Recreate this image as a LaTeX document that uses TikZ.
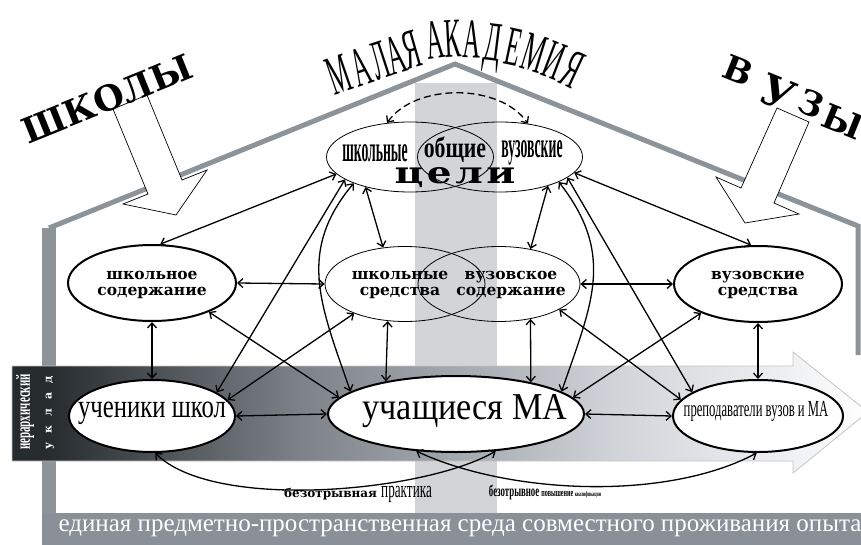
\documentclass[tikz,border=0pt]{standalone}
\usepackage{fontspec}
\setmainfont{Liberation Serif}
\newfontfamily\widefont{DejaVu Serif}
\newfontfamily\goalfont{DejaVu Serif}[FakeStretch=1.3,LetterSpace=12]
\newfontfamily\titlefont{Liberation Serif}[FakeStretch=0.44]
\newfontfamily\condfont{Liberation Serif}[FakeStretch=0.55]
\newfontfamily\thincondfont{Liberation Serif}[FakeStretch=0.38]
\newfontfamily\semicondfont{Liberation Serif}[FakeStretch=0.75]
\newfontfamily\mildcondfont{Liberation Serif}[FakeStretch=0.9]
\usetikzlibrary{arrows.meta,shapes.geometric,positioning}
\definecolor{roofgray}{HTML}{8C9399}
\definecolor{bandgray}{HTML}{D3D4D6}
\definecolor{floorgray}{HTML}{899097}
\definecolor{shaftdark}{HTML}{262B2E}
\definecolor{shaftmid}{HTML}{7D8389}
\definecolor{shaftgray}{HTML}{A3A9AF}
\definecolor{shaftlight}{HTML}{D0D3D8}
\definecolor{shaftpale}{HTML}{EEEFF1}
\pgfdeclarehorizontalshading{shaftshade}{100bp}{color(0bp)=(shaftdark); color(27bp)=(shaftdark); color(42bp)=(shaftmid); color(51bp)=(shaftgray); color(60bp)=(shaftlight); color(70bp)=(shaftpale); color(75bp)=(white); color(100bp)=(white)}

\begin{document}
\begin{tikzpicture}[x=1pt,y=-1pt,
    thickell/.style={ellipse,draw,line width=2pt,fill=white,inner sep=0pt},
    thinell/.style={ellipse,draw,line width=0.8pt,inner sep=0pt},
    link/.style={<->,line width=1.3pt},
    blockarrow/.style={draw,fill=white,line width=0.7pt,line join=miter},
    midtext/.style={font=\widefont\bfseries\fontsize{15.5}{16}\selectfont,align=center,inner sep=0pt},
    goaltext/.style={font=\thincondfont\bfseries\fontsize{36}{36}\selectfont,inner sep=0pt},
    titleletter/.style={font=\titlefont\fontsize{56}{56}\selectfont,anchor=base,inner sep=0pt},
    unitletter/.style={inner sep=0pt},
    >={Straight Barb[length=5pt,width=9pt]}
  ]
  \useasboundingbox (0,0) rectangle (861,545);
  % house, middle band, floor
  \fill[bandgray] (415,83) rectangle (497,515);
  \fill[roofgray] (42,228) rectangle (56,515);
  \draw[roofgray,line width=5pt] (49,228) -- (455,64) -- (858,226) -- (858,355);
  \fill[floorgray] (42,513) rectangle (861,545);
  \node[text=white,font=\fontsize{25}{25}\selectfont] (floortext) at (460,528) {единая предметно-пространственная среда совместного проживания опыта};

  % shaded arrow
  \shade[shading=shaftshade,draw=gray!45,line width=0.8pt] (12,366) -- (793,366) -- (793,352) -- (868,412) -- (793,473) -- (793,461) -- (12,461) -- cycle;
  \node[rotate=90,text=white,font=\condfont\bfseries\fontsize{20}{20}\selectfont] (hierword) at (25,412) {иерархический};
  \node[rotate=90,text=white,font=\widefont\bfseries\fontsize{11}{11}\selectfont] (ukladword) at (50,413) {у\hspace{9pt}к\hspace{9pt}л\hspace{9pt}а\hspace{9pt}д};

  % block arrows and titles
  \draw[blockarrow] (113,109) -- (147,95) -- (182,180) -- (207,170) -- (176,215) -- (123,204) -- (148,194) -- cycle;
  \draw[blockarrow] (809,122) -- (777,108) -- (741,188) -- (716,177) -- (745,223) -- (799,214) -- (774,203) -- cycle;
  \node[font=\widefont\bfseries\fontsize{35}{35}\selectfont,rotate=22] (schooltitle) at (107,99) {ШКОЛЫ};
  \foreach \ch/\x/\y/\r [count=\i] in {М/345/92/19, А/367/85/19, Л/385/78/18, А/401/73/17, Я/416/67/16,
      А/437/58/8, К/454/57/3, А/471/58/-2, Д/491/61/-7, Е/510/65/-12, М/529/71/-17, И/548/78/-21, Я/565/86/-25}
    \node[titleletter,rotate=\r] (ma\i) at (\x,\y) {\ch};
  \foreach \ch/\x/\y/\s [count=\i] in {В/738/70/34, У/778/93/42, З/811/104/34, Ы/843/122/34}
    \node[unitletter,rotate=-22,font=\widefont\bfseries\fontsize{\s}{\s}\selectfont] (vuz\i) at (\x,\y) {\ch};

  % goals
  \node[thinell,minimum width=167pt,minimum height=70pt] (goalL) at (410,157) {};
  \node[thinell,minimum width=165pt,minimum height=70pt] (goalR) at (500,157) {};
  \node[goaltext] (goalLtext) at (375,153) {школьные};
  \node[goaltext] (goalRtext) at (532,153) {вузовские};
  \node[font=\semicondfont\bfseries\fontsize{29}{29}\selectfont,inner sep=0pt] (goalCtext) at (455,150) {общие};
  \node[font=\goalfont\bfseries\fontsize{30}{30}\selectfont,inner sep=0pt,below=4pt of goalCtext] (goalword) {цели};

  % middle row
  \node[thickell,minimum width=168pt,minimum height=76pt] (contS) at (152,283) {};
  \node[midtext] (contStext) at (152,285) {школьное\\содержание};
  \node[thinell,minimum width=160pt,minimum height=75pt] (meansL) at (405,284) {};
  \node[thinell,minimum width=162pt,minimum height=75pt] (meansR) at (499,284) {};
  \node[midtext] (meansLtext) at (400,285) {школьные\\средства};
  \node[midtext] (meansRtext) at (511,285) {вузовское\\содержание};
  \node[thickell,minimum width=168pt,minimum height=76pt] (meansU) at (758,284) {};
  \node[midtext] (meansUtext) at (758,285) {вузовские\\средства};

  % bottom row
  \node[thickell,minimum width=166pt,minimum height=72pt] (pupS) at (152,416) {};
  \node[font=\semicondfont\fontsize{33}{33}\selectfont,inner sep=0pt] (pupStext) at (152,413) {ученики школ};
  \node[thickell,minimum width=256pt,minimum height=76pt] (pupMA) at (456,414) {};
  \node[font=\mildcondfont\fontsize{38}{38}\selectfont,inner sep=0pt] (pupMAtext) at (465,411) {учащиеся МА};
  \node[thickell,minimum width=170pt,minimum height=72pt] (teach) at (758,416) {};
  \node[font=\condfont\fontsize{23}{23}\selectfont,inner sep=0pt] (teachtext) at (756,411) {преподаватели вузов и МА};

  % connectors
  \draw[link,dash pattern=on 7pt off 4pt] (goalL.124) .. controls (415,83) and (500,83) .. (goalR.50);
  \draw[link] (goalL.193) -- (contS.78);
  \draw[link] (goalL.199) -- (pupS.20);
  \draw[link] (goalL.205) to[out=230,in=109,looseness=1.1] (pupMA.168);
  \draw[link] (goalL.214) -- (meansL.121);
  \draw[link] (goalR.-12) -- (meansU.100);
  \draw[link] (goalR.-17) -- (teach.160);
  \draw[link] (goalR.-23) to[out=-52,in=71,looseness=1.13] (pupMA.12);
  \draw[link] (goalR.-31) -- (meansR.48);
  \draw[link] (contS.east) -- (meansL.west);
  \draw[link] (meansR.east) -- (meansU.west);
  \draw[link] (contS.south) -- (pupS.north);
  \draw[link] (meansL.245) -- (pupMA.155);
  \draw[link] (meansR.-48) -- (pupMA.23);
  \draw[link] (meansU.south) -- (teach.north);
  \draw[link] (contS.-27) -- (pupMA.172);
  \draw[link] (meansL.210) -- (pupS.12);
  \draw[link] (meansR.-23) -- (teach.168);
  \draw[link] (meansU.207) -- (pupMA.8);
  \draw[link] (pupS.east) -- (pupMA.west);
  \draw[link] (pupMA.east) -- (teach.west);
  \draw[link] (pupS.-85) to[out=-45,in=210,looseness=0.62] (pupMA.-43);
  \draw[link] (pupMA.-137) to[out=-25,in=208,looseness=0.77] (teach.-92);
  \node[inner sep=0pt] (practicetext) at (358,494) {\widefont\bfseries\fontsize{12}{12}\selectfont безотрывная \condfont\mdseries\fontsize{24}{24}\selectfont практика};
  \node[inner sep=0pt] (trainingtext) at (545,492) {\condfont\bfseries\fontsize{16}{16}\selectfont безотрывное \fontsize{11}{11}\selectfont повышение \fontsize{7}{7}\selectfont квалификации};
\end{tikzpicture}
\end{document}
